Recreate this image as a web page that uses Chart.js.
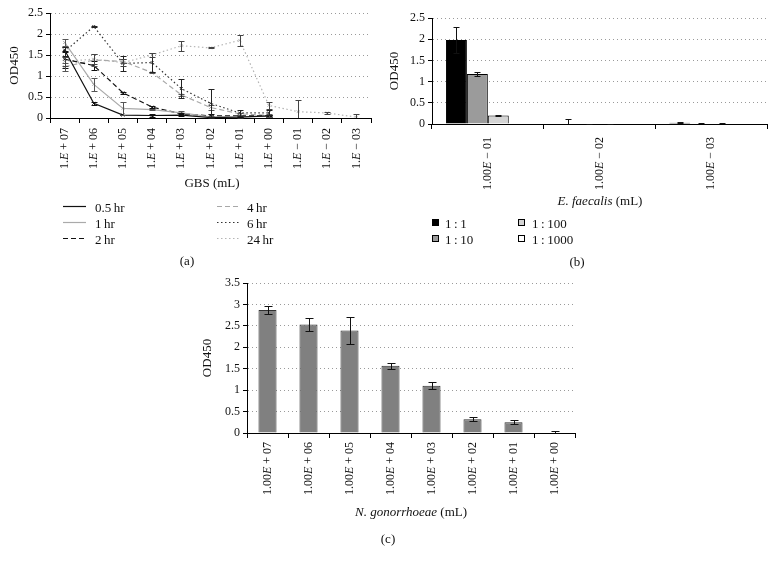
<!DOCTYPE html>
<html>
<head>
<meta charset="utf-8">
<script src="https://cdn.jsdelivr.net/npm/chart.js@4.4.0/dist/chart.umd.min.js"></script>
<style>
body { margin:0; width:776px; height:561px; background:#fff; position:relative; overflow:hidden; font-family:"Liberation Serif", serif; color:#111; }
canvas { position:absolute; }
.t { position:absolute; font-size:13px; white-space:nowrap; transform:translate(-50%,-50%); line-height:1; }
.lg { position:absolute; font-size:13px; white-space:nowrap; transform:translateY(-50%); line-height:1; }
svg { position:absolute; left:0; top:0; pointer-events:none; }
</style>
</head>
<body>
<canvas id="ca" width="385" height="190" style="left:0;top:0"></canvas>
<canvas id="cb" width="396" height="205" style="left:380px;top:0"></canvas>
<canvas id="cc" width="420" height="245" style="left:180px;top:260px"></canvas>

<svg width="776" height="561">
  <line x1="63" y1="206.5" x2="86" y2="206.5" stroke="#111" stroke-width="1.2"/>
  <line x1="63" y1="222.5" x2="86" y2="222.5" stroke="#aaa" stroke-width="1.2"/>
  <line x1="63" y1="238.5" x2="86" y2="238.5" stroke="#111" stroke-width="1.2" stroke-dasharray="5 3"/>
  <line x1="217" y1="206.5" x2="240" y2="206.5" stroke="#a8a8a8" stroke-width="1.2" stroke-dasharray="5 3"/>
  <line x1="217" y1="222.5" x2="240" y2="222.5" stroke="#333" stroke-width="1.2" stroke-dasharray="1.5 2.5"/>
  <line x1="217" y1="238.5" x2="240" y2="238.5" stroke="#b5b5b5" stroke-width="1.2" stroke-dasharray="1.5 2.5"/>
  <rect x="432.5" y="219.5" width="6" height="6" fill="#000" stroke="#000"/>
  <rect x="432.5" y="235.5" width="6" height="6" fill="#9b9b9b" stroke="#000"/>
  <rect x="518.5" y="219.5" width="6" height="6" fill="#d4d4d4" stroke="#000"/>
  <rect x="518.5" y="235.5" width="6" height="6" fill="#fff" stroke="#000"/>
</svg>

<div class="lg" style="left:95px;top:207px">0.5&#8201;hr</div>
<div class="lg" style="left:95px;top:223px">1&#8201;hr</div>
<div class="lg" style="left:95px;top:239px">2&#8201;hr</div>
<div class="lg" style="left:247px;top:207px">4&#8201;hr</div>
<div class="lg" style="left:247px;top:223px">6&#8201;hr</div>
<div class="lg" style="left:247px;top:239px">24&#8201;hr</div>
<div class="lg" style="left:445px;top:223px">1&#8201;:&#8201;1</div>
<div class="lg" style="left:445px;top:239px">1&#8201;:&#8201;10</div>
<div class="lg" style="left:532px;top:223px">1&#8201;:&#8201;100</div>
<div class="lg" style="left:532px;top:239px">1&#8201;:&#8201;1000</div>

<div class="t" style="left:212px;top:182px">GBS (mL)</div>
<div class="t" style="left:600px;top:200px"><i>E. faecalis</i> (mL)</div>
<div class="t" style="left:411px;top:511px"><i>N. gonorrhoeae</i> (mL)</div>
<div class="t" style="left:187px;top:260px">(a)</div>
<div class="t" style="left:577px;top:261px">(b)</div>
<div class="t" style="left:388px;top:538px">(c)</div>

<script>
// panel (a) - GBS time course
const gbsLabels = ['1.E + 07', '1.E + 06', '1.E + 05', '1.E + 04', '1.E + 03', '1.E + 02',
                   '1.E + 01', '1.E + 00', '1.E \u2212 01', '1.E \u2212 02', '1.E \u2212 03'];
const hr05 = [1.62, 0.35, 0.07, 0.06, 0.07, 0.01, 0.02, 0.05, null, null, null];
const hr05Err = [0.06, 0.04, 0.01, 0.03, 0.02, 0.01, 0.01, 0.01, null, null, null];
const hr1 = [1.80, 0.80, 0.23, 0.20, 0.12, 0.03, 0.03, 0.04, null, null, null];
const hr1Err = [0.08, 0.16, 0.15, 0.02, 0.04, 0.02, 0.02, 0.02, null, null, null];
const hr2 = [1.40, 1.25, 0.60, 0.26, 0.10, 0.05, 0.05, 0.05, null, null, null];
const hr2Err = [0.20, 0.10, 0.03, 0.03, 0.03, 0.04, 0.03, 0.03, null, null, null];
const hr4 = [1.22, 1.38, 1.35, 1.08, 0.55, 0.25, 0.10, 0.06, null, null, null];
const hr4Err = [0.10, 0.14, 0.05, 0.02, 0.03, 0.05, 0.03, 0.03, null, null, null];
const hr6 = [1.58, 2.18, 1.30, 1.32, 0.70, 0.35, 0.12, 0.12, null, null, null];
const hr6Err = [0.10, 0.02, 0.18, 0.22, 0.22, 0.35, 0.08, 0.06, null, null, null];
const hr24 = [1.35, 1.40, 1.32, 1.50, 1.72, 1.67, 1.85, 0.30, 0.15, 0.12, 0.02];
const hr24Err = [0.10, 0.12, 0.08, 0.05, 0.12, 0.01, 0.13, 0.08, 0.28, 0.02, 0.08];

// panel (b) - E. faecalis
const efLabels = ['1.00E \u2212 01', '1.00E \u2212 02', '1.00E \u2212 03'];
const ef1 = [1.98, 0.00, 0.03];
const ef1Err = [0.30, 0.12, 0.01];
const ef10 = [1.18, 0.00, 0.01];
const ef10Err = [0.05, 0.01, 0.01];
const ef100 = [0.20, 0.00, 0.01];
const ef100Err = [0.02, 0.01, 0.01];
const ef1000 = [0.00, 0.00, 0.00];

// panel (c) - N. gonorrhoeae
const ngLabels = ['1.00E + 07', '1.00E + 06', '1.00E + 05', '1.00E + 04',
                  '1.00E + 03', '1.00E + 02', '1.00E + 01', '1.00E + 00'];
const ngVals = [2.87, 2.53, 2.39, 1.57, 1.10, 0.32, 0.25, 0.01];
const ngErr = [0.10, 0.16, 0.31, 0.07, 0.08, 0.05, 0.05, 0.03];

const FONT = 'Liberation Serif';

// error bars drawn from the y scale of each chart
const errorBars = {
  id: 'errorBars',
  afterDatasetsDraw(chart) {
    const ctx = chart.ctx, y = chart.scales.y;
    chart.data.datasets.forEach((ds, di) => {
      if (!ds.errors) return;
      const meta = chart.getDatasetMeta(di);
      ctx.save();
      ctx.strokeStyle = ds.errorColor || '#111';
      ctx.lineWidth = 1;
      meta.data.forEach((el, i) => {
        const v = ds.data[i], e = ds.errors[i];
        if (v == null || !e) return;
        const x = Math.round(el.x) + 0.5;
        const top = Math.round(y.getPixelForValue(v + e)) + 0.5;
        const bot = Math.min(Math.round(y.getPixelForValue(Math.max(v - e, 0))) + 0.5, y.bottom);
        const w = ds.capWidth || 3;
        ctx.beginPath();
        ctx.moveTo(x, top); ctx.lineTo(x, bot);
        ctx.moveTo(x - w, top); ctx.lineTo(x + w, top);
        if (v - e > 0) { ctx.moveTo(x - w, bot); ctx.lineTo(x + w, bot); }
        ctx.stroke();
      });
      ctx.restore();
    });
  }
};

// rotated category labels with an italic E
function tickText(gap, size) {
  return {
    id: 'tickText',
    afterDraw(chart) {
      const ctx = chart.ctx, xs = chart.scales.x;
      ctx.save();
      ctx.fillStyle = '#111';
      chart.data.labels.forEach((lab, i) => {
        const k = lab.indexOf('E');
        const parts = [[lab.slice(0, k), ''], ['E', 'italic '], [lab.slice(k + 1), '']];
        let w = 0;
        parts.forEach(p => { ctx.font = p[1] + size + 'px "' + FONT + '"'; w += ctx.measureText(p[0]).width; });
        ctx.save();
        ctx.translate(xs.getPixelForTick(i), xs.top + gap);
        ctx.rotate(-Math.PI / 2);
        ctx.textBaseline = 'middle';
        ctx.textAlign = 'left';
        let cx = -w;
        parts.forEach(p => {
          ctx.font = p[1] + size + 'px "' + FONT + '"';
          ctx.fillText(p[0], cx, 0);
          cx += ctx.measureText(p[0]).width;
        });
        ctx.restore();
      });
      ctx.restore();
    }
  };
}

function yAxis(max, width) {
  return {
    min: 0, max: max,
    ticks: { stepSize: 0.5, color: '#111', font: { family: FONT, size: 12 }, padding: 3,
             callback: v => String(Number(v)) },
    grid: { color: '#9a9a9a', lineWidth: 1, tickLength: 4, tickColor: '#000', tickBorderDash: [] },
    border: { color: '#000', width: 1, dash: [1, 3] },
    title: { display: true, text: 'OD450', color: '#111', font: { family: FONT, size: 13 }, padding: { top: 4, bottom: 4 } },
    afterFit: s => { s.width = width; }
  };
}
function xAxis(height) {
  return {
    offset: true,
    ticks: { display: false },
    grid: { offset: true, drawOnChartArea: false, tickLength: 5, tickColor: '#000', color: '#000' },
    border: { color: '#000', width: 1 },
    afterFit: s => { s.height = height; }
  };
}
const basePlugins = { legend: { display: false }, tooltip: { enabled: false } };

function lineSet(data, errors, color, dash, errColor) {
  return {
    data: data, errors: errors, errorColor: errColor, capWidth: 3,
    borderColor: color, borderWidth: 1.2, borderDash: dash, tension: 0,
    pointStyle: 'crossRot', pointRadius: 2, pointBorderColor: color, pointBorderWidth: 1,
    fill: false, spanGaps: false
  };
}

new Chart(document.getElementById('ca'), {
  type: 'line',
  data: {
    labels: gbsLabels,
    datasets: [
      lineSet(hr05, hr05Err, '#111', [], '#111'),
      lineSet(hr1, hr1Err, '#aaa', [], '#555'),
      lineSet(hr2, hr2Err, '#111', [5, 3], '#111'),
      lineSet(hr4, hr4Err, '#a8a8a8', [5, 3], '#555'),
      lineSet(hr6, hr6Err, '#333', [1.5, 2.5], '#222'),
      lineSet(hr24, hr24Err, '#b5b5b5', [1.5, 2.5], '#444')
    ]
  },
  options: {
    responsive: false, animation: false, devicePixelRatio: 1,
    layout: { padding: { left: 3, right: 14, top: 13, bottom: 0 } },
    scales: { x: xAxis(72), y: yAxis(2.5, 47) },
    plugins: basePlugins
  },
  plugins: [errorBars, tickText(10, 12)]
});

function barSet(data, errors, color) {
  return {
    data: data, errors: errors, capWidth: 3, errorColor: '#111',
    backgroundColor: color, borderColor: '#000', borderWidth: 1,
    categoryPercentage: 0.75, barPercentage: 1.0
  };
}

new Chart(document.getElementById('cb'), {
  type: 'bar',
  data: {
    labels: efLabels,
    datasets: [
      barSet(ef1, ef1Err, '#000000'),
      barSet(ef10, ef10Err, '#9b9b9b'),
      barSet(ef100, ef100Err, '#d4d4d4'),
      barSet(ef1000, null, '#ffffff')
    ]
  },
  options: {
    responsive: false, animation: false, devicePixelRatio: 1,
    layout: { padding: { left: 3, right: 9, top: 18, bottom: 0 } },
    scales: { x: xAxis(81), y: yAxis(2.5, 49) },
    plugins: basePlugins
  },
  plugins: [errorBars, tickText(13, 12)]
});

new Chart(document.getElementById('cc'), {
  type: 'bar',
  data: {
    labels: ngLabels,
    datasets: [{
      data: ngVals, errors: ngErr, capWidth: 4, errorColor: '#111',
      backgroundColor: '#808080', borderColor: '#303030', borderWidth: 1,
      categoryPercentage: 1.0, barPercentage: 0.44
    }]
  },
  options: {
    responsive: false, animation: false, devicePixelRatio: 1,
    layout: { padding: { left: 16, right: 25, top: 23, bottom: 0 } },
    scales: { x: xAxis(72), y: yAxis(3.5, 51) },
    plugins: basePlugins
  },
  plugins: [errorBars, tickText(9, 12)]
});
</script>
</body>
</html>
